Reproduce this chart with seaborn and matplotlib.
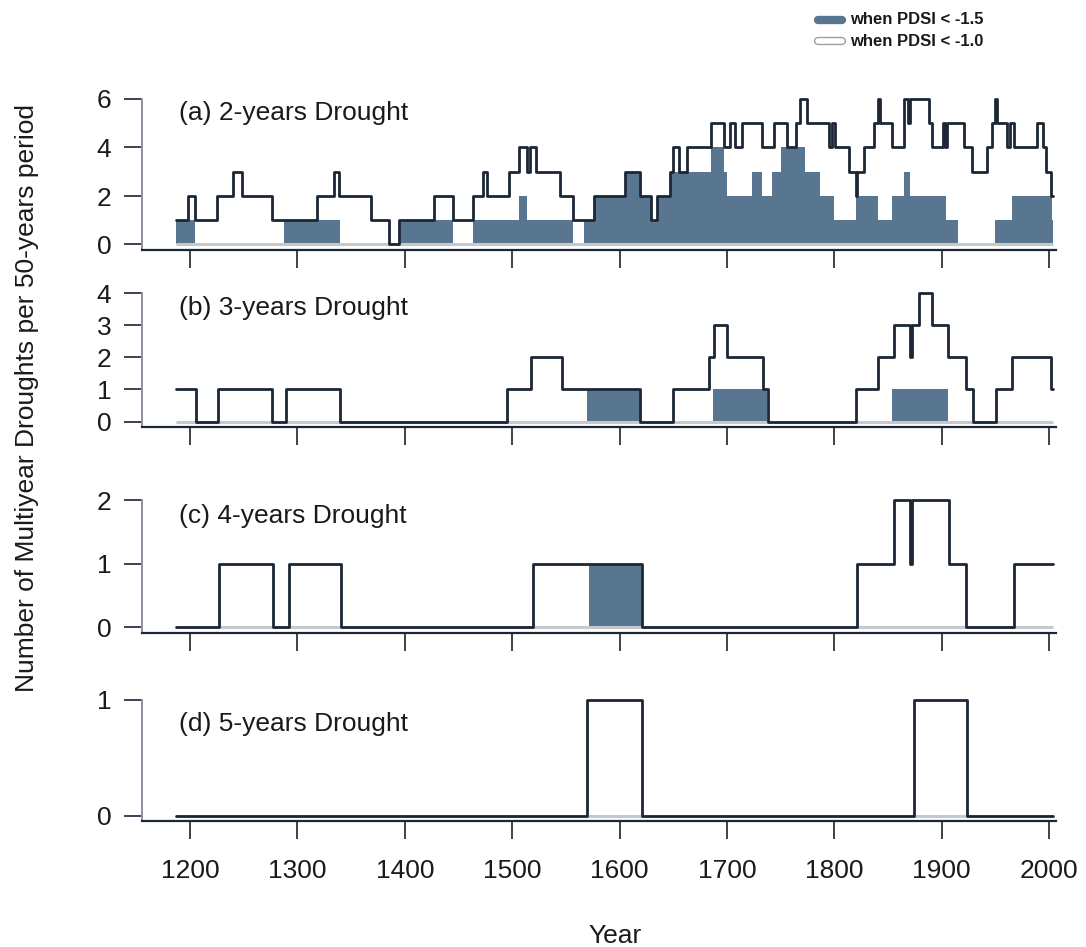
import matplotlib
matplotlib.use("Agg")
import matplotlib.pyplot as plt
import seaborn as sns
import pandas as pd
from matplotlib.lines import Line2D

sns.set_theme(style="white")
plt.rcParams['font.family'] = ['Liberation Sans', 'DejaVu Sans']

# ---------------- data (step change points: year where the value starts) ----------------
END_YEAR = 2004
year_ticks = [1200, 1300, 1400, 1500, 1600, 1700, 1800, 1900, 2000]

# (a) 2-years drought
a_pdsi10_years = [1187, 1198, 1205, 1225, 1240, 1248, 1276, 1318, 1334, 1339, 1369, 1385, 1395,
                  1427, 1445, 1464, 1473, 1477, 1497, 1506, 1514, 1517, 1522, 1545, 1557, 1576,
                  1605, 1619, 1629, 1635, 1647, 1650, 1655, 1663, 1685, 1697, 1703, 1708, 1714,
                  1733, 1744, 1756, 1764, 1768, 1775, 1795, 1798, 1801, 1814, 1820, 1821, 1828,
                  1837, 1841, 1843, 1854, 1865, 1869, 1871, 1888, 1891, 1901, 1903, 1905, 1921,
                  1928, 1942, 1947, 1950, 1952, 1961, 1964, 1967, 1989, 1994, 1997, 2002]
a_pdsi10_vals = [1, 2, 1, 2, 3, 2, 1, 2, 3, 2, 1, 0, 1,
                 2, 1, 2, 3, 2, 3, 4, 3, 4, 3, 2, 1, 2,
                 3, 2, 1, 2, 3, 4, 3, 4, 5, 4, 5, 4, 5,
                 4, 5, 4, 5, 6, 5, 4, 5, 4, 3, 2, 3, 4,
                 5, 6, 5, 4, 6, 5, 6, 5, 4, 5, 4, 5, 4,
                 3, 4, 5, 6, 5, 4, 5, 4, 5, 4, 3, 2]
a_pdsi15_years = [1187, 1205, 1288, 1340, 1395, 1445, 1464, 1506, 1514, 1557, 1567, 1576, 1605,
                  1619, 1629, 1635, 1647, 1685, 1697, 1700, 1723, 1733, 1742, 1750, 1773, 1787,
                  1800, 1820, 1841, 1854, 1865, 1871, 1904, 1915, 1950, 1966, 2003]
a_pdsi15_vals = [1, 0, 1, 0, 1, 0, 1, 2, 1, 0, 1, 2, 3,
                 2, 1, 2, 3, 4, 3, 2, 3, 2, 3, 4, 3, 2,
                 1, 2, 1, 2, 3, 2, 1, 0, 1, 2, 1]

# (b) 3-years drought
b_pdsi10_years = [1187, 1206, 1226, 1276, 1289, 1340, 1495, 1518, 1546, 1619, 1650, 1683, 1688,
                  1700, 1734, 1738, 1820, 1841, 1856, 1871, 1872, 1879, 1891, 1906, 1923, 1929,
                  1951, 1966, 2002]
b_pdsi10_vals = [1, 0, 1, 0, 1, 0, 1, 2, 1, 0, 1, 2, 3,
                 2, 1, 0, 1, 2, 3, 2, 3, 4, 3, 2, 1, 0,
                 1, 2, 1]
b_pdsi15_years = [1187, 1570, 1619, 1687, 1737, 1854, 1906]
b_pdsi15_vals = [0, 1, 0, 1, 0, 1, 0]

# (c) 4-years drought
c_pdsi10_years = [1187, 1227, 1277, 1292, 1341, 1519, 1621, 1821, 1856, 1871, 1872, 1907, 1923, 1967]
c_pdsi10_vals = [0, 1, 0, 1, 0, 1, 0, 1, 2, 1, 2, 1, 0, 1]
c_pdsi15_years = [1187, 1572, 1621]
c_pdsi15_vals = [0, 1, 0]

# (d) 5-years drought
d_pdsi10_years = [1187, 1570, 1621, 1874, 1924]
d_pdsi10_vals = [0, 1, 0, 1, 0]
d_pdsi15_years = [1187]
d_pdsi15_vals = [0]

titles = ["(a) 2-years Drought", "(b) 3-years Drought", "(c) 4-years Drought", "(d) 5-years Drought"]
yticks_list = [[0, 2, 4, 6], [0, 1, 2, 3, 4], [0, 1, 2], [0, 1]]
legend_labels = ["when PDSI < -1.5", "when PDSI < -1.0"]

# ---------------- layout ----------------
W, H = 1086, 947
fig = plt.figure(figsize=(W / 100, H / 100), dpi=100)

PX_PER_YEAR = 1.07375
X_LEFT_PX, X_RIGHT_PX = 142, 1056
xlim = (1200 - (190 - X_LEFT_PX) / PX_PER_YEAR, 1200 + (X_RIGHT_PX - 190) / PX_PER_YEAR)

# zero pixel, px per unit, title pixel
panels = [
    dict(zero=244.5, unit=24.25, title_px=113, out=(a_pdsi10_years, a_pdsi10_vals), fill=(a_pdsi15_years, a_pdsi15_vals)),
    dict(zero=421.5, unit=32.1, title_px=308, out=(b_pdsi10_years, b_pdsi10_vals), fill=(b_pdsi15_years, b_pdsi15_vals)),
    dict(zero=627.0, unit=63.5, title_px=516, out=(c_pdsi10_years, c_pdsi10_vals), fill=(c_pdsi15_years, c_pdsi15_vals)),
    dict(zero=815.5, unit=116.0, title_px=724, out=(d_pdsi10_years, d_pdsi10_vals), fill=(d_pdsi15_years, d_pdsi15_vals)),
]

FILL = "#587690"
LINE = "#1c2736"
BASE = "#c6cace"
SPINE = "#8b93a0"
TICKC = "#2e3440"
FS = 19


def steps(years, vals):
    return list(years) + [END_YEAR], list(vals) + [vals[-1]]


for i, p in enumerate(panels):
    yt = yticks_list[i]
    ymax = yt[-1]
    unit = p["unit"]
    ybot = -5.5 / unit
    ytop = ymax + 5 / unit
    top_px = p["zero"] - ytop * unit
    bot_px = p["zero"] - ybot * unit
    ax = fig.add_axes([X_LEFT_PX / W, 1 - bot_px / H, (X_RIGHT_PX - X_LEFT_PX) / W, (bot_px - top_px) / H])
    ax.set_facecolor("white")

    fx, fy = steps(*p["fill"])
    ax.fill_between(fx, 0, fy, step="post", color=FILL, lw=0, zorder=2)
    ox, oy = steps(*p["out"])
    ax.plot([ox[0], ox[-1]], [0, 0], color=BASE, lw=2.2, zorder=3, solid_capstyle="butt")
    df = pd.DataFrame({"year": ox, "n": oy})
    sns.lineplot(data=df, x="year", y="n", drawstyle="steps-post", color=LINE, lw=2.0,
                 estimator=None, sort=False, ax=ax, zorder=4)

    ax.set_xlim(*xlim)
    ax.set_ylim(ybot, ytop)
    ax.set_xticks(year_ticks)
    ax.set_yticks(yt)
    ax.set_yticklabels([str(v) for v in yt])
    ax.set_xlabel("")
    ax.set_ylabel("")
    for s in ["top", "right"]:
        ax.spines[s].set_visible(False)
    ax.spines["left"].set_bounds(ybot, ymax)
    ax.spines["left"].set_color(SPINE)
    ax.spines["left"].set_linewidth(1.4)
    ax.spines["bottom"].set_color(LINE)
    ax.spines["bottom"].set_linewidth(1.6)
    ax.tick_params(axis="both", direction="out", length=13, width=1.3, color=TICKC,
                   labelsize=FS, labelcolor="#1a1a1a")
    ax.tick_params(axis="y", pad=9, left=True)
    ax.tick_params(axis="x", pad=14, bottom=True)
    if i < 3:
        ax.tick_params(axis="x", labelbottom=False)
    ax.grid(False)
    ty = (p["zero"] - p["title_px"]) / unit
    ax.text(1190, ty, titles[i], fontsize=FS, va="center", ha="left", color="#1a1a1a", zorder=5)

# axis titles
fig.text(615 / W, 1 - 936 / H, "Year", fontsize=FS, ha="center", va="center", color="#1a1a1a")
fig.text(27 / W, 1 - 398 / H, "Number of Multiyear Droughts per 50-years period", fontsize=FS,
         rotation=90, ha="center", va="center", color="#1a1a1a")

# legend (top right)
def fx_(x):
    return x / W

def fy_(y):
    return 1 - y / H

fig.add_artist(Line2D([fx_(818), fx_(842)], [fy_(20), fy_(20)], transform=fig.transFigure,
                      color=FILL, lw=6, solid_capstyle="round"))
fig.add_artist(Line2D([fx_(818), fx_(842)], [fy_(41), fy_(41)], transform=fig.transFigure,
                      color="#9aa0a8", lw=6, solid_capstyle="round"))
fig.add_artist(Line2D([fx_(818), fx_(842)], [fy_(41), fy_(41)], transform=fig.transFigure,
                      color="white", lw=4, solid_capstyle="round"))
fig.text(fx_(850), fy_(20), legend_labels[0], fontsize=12, fontweight="bold", va="center", ha="left", color="#1a1a1a")
fig.text(fx_(850), fy_(41), legend_labels[1], fontsize=12, fontweight="bold", va="center", ha="left", color="#1a1a1a")

fig.savefig("out.png", dpi=100)
